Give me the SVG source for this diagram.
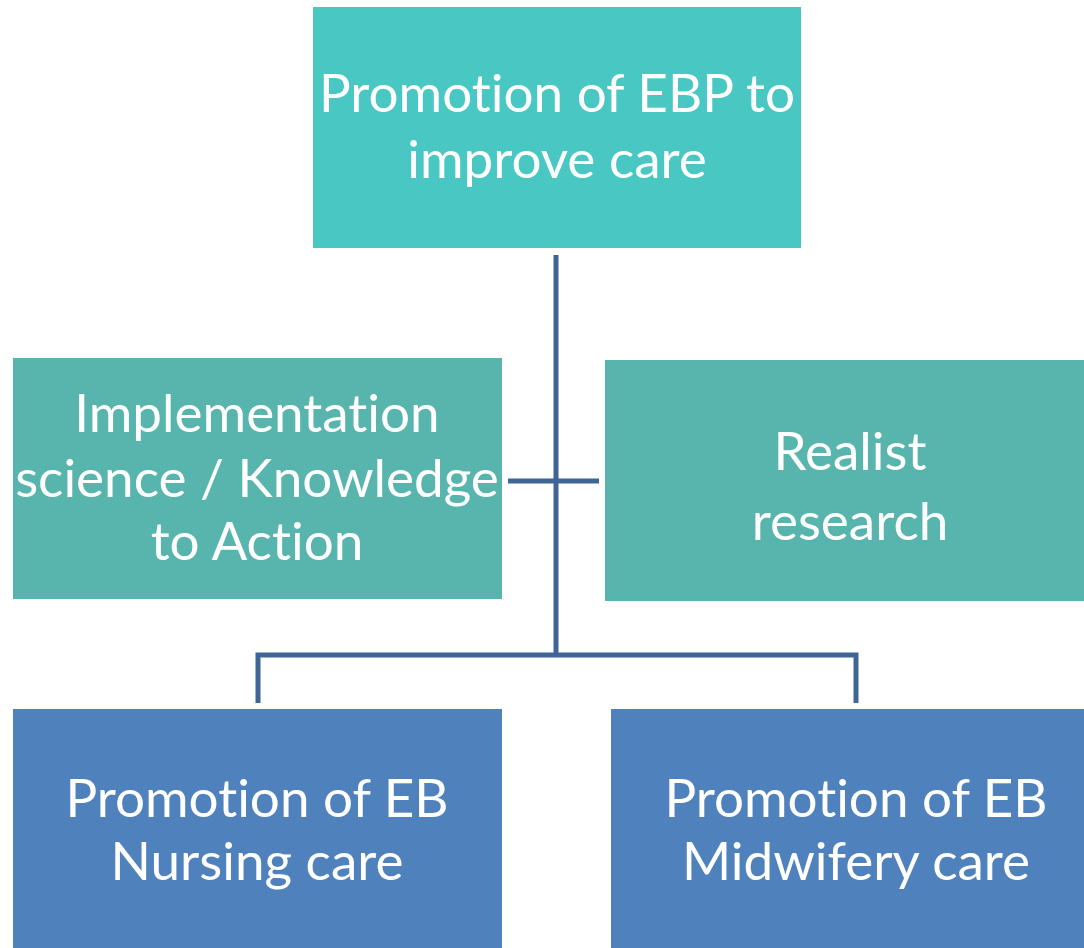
<svg xmlns="http://www.w3.org/2000/svg" width="1084" height="948" viewBox="0 0 1084 948">
<style>
.t{font-family:Lato,"Open Sans","Liberation Sans",sans-serif;font-size:53px;fill:#fff;text-anchor:middle;font-variant-ligatures:none;font-feature-settings:"liga" 0}
.c{stroke:#3F6596;stroke-width:5;fill:none}
</style>
<rect width="1084" height="948" fill="#fff"/>
<g id="connectors">
<path class="c" d="M556 255V655"/>
<path class="c" d="M508 481H599"/>
<path class="c" d="M258 703V655H856V703"/>
</g>
<g id="top">
<rect x="313" y="7" width="488" height="241" fill="#48C7C3"/>
<text class="t" x="557" y="112">Promotion of EBP to</text>
<text class="t" x="557" y="178">improve care</text>
</g>
<g id="impl">
<rect x="13" y="358" width="489" height="241" fill="#58B5AE"/>
<text class="t" x="257" y="432">Implementation</text>
<text class="t" x="257" y="497">science / Knowledge</text>
<text class="t" x="257" y="560">to Action</text>
</g>
<g id="realist">
<rect x="605" y="360" width="479" height="241" fill="#58B5AE"/>
<text class="t" x="850" y="470">Realist</text>
<text class="t" x="850" y="540">research</text>
</g>
<g id="nursing">
<rect x="13" y="709" width="489" height="239" fill="#4F81BD"/>
<text class="t" x="257" y="817">Promotion of EB</text>
<text class="t" x="257" y="880">Nursing care</text>
</g>
<g id="midwifery">
<rect x="611" y="709" width="473" height="239" fill="#4F81BD"/>
<text class="t" x="856" y="817">Promotion of EB</text>
<text class="t" x="856" y="880">Midwifery care</text>
</g>
</svg>
